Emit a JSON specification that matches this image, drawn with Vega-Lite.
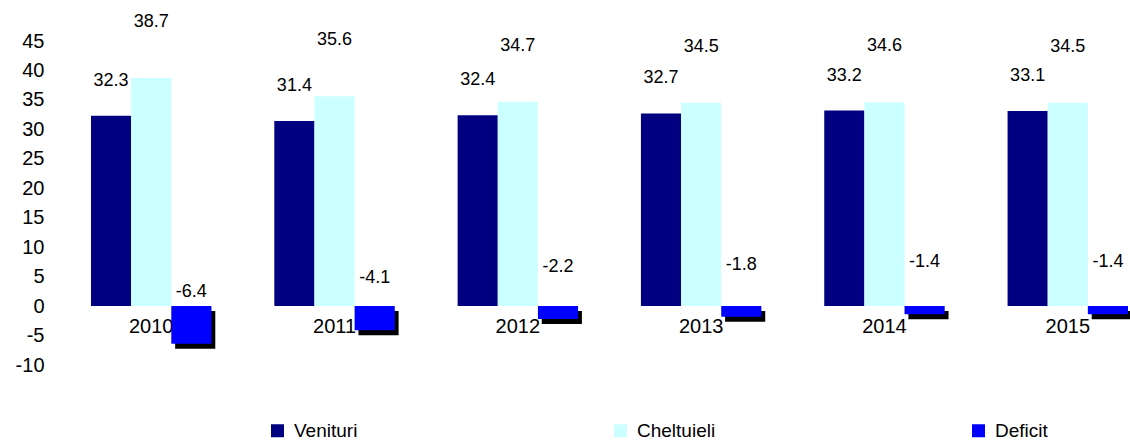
{
  "$schema": "https://vega.github.io/schema/vega-lite/v6.json",
  "autosize": "none",
  "width": 1037,
  "height": 324,
  "padding": {"left": 91, "top": 41, "right": 2, "bottom": 82},
  "background": "white",
  "config": {"view": {"stroke": null}, "font": "Liberation Sans"},
  "data": {"values": [
    {"year": "2010", "series": "Venituri", "value": 32.3},
    {"year": "2010", "series": "Cheltuieli", "value": 38.7},
    {"year": "2010", "series": "Deficit", "value": -6.4},
    {"year": "2011", "series": "Venituri", "value": 31.4},
    {"year": "2011", "series": "Cheltuieli", "value": 35.6},
    {"year": "2011", "series": "Deficit", "value": -4.1},
    {"year": "2012", "series": "Venituri", "value": 32.4},
    {"year": "2012", "series": "Cheltuieli", "value": 34.7},
    {"year": "2012", "series": "Deficit", "value": -2.2},
    {"year": "2013", "series": "Venituri", "value": 32.7},
    {"year": "2013", "series": "Cheltuieli", "value": 34.5},
    {"year": "2013", "series": "Deficit", "value": -1.8},
    {"year": "2014", "series": "Venituri", "value": 33.2},
    {"year": "2014", "series": "Cheltuieli", "value": 34.6},
    {"year": "2014", "series": "Deficit", "value": -1.4},
    {"year": "2015", "series": "Venituri", "value": 33.1},
    {"year": "2015", "series": "Cheltuieli", "value": 34.5},
    {"year": "2015", "series": "Deficit", "value": -1.4}
  ]},
  "encoding": {
    "x": {"field": "year", "type": "nominal", "axis": null,
          "scale": {"paddingInner": 0.343, "paddingOuter": 0}},
    "xOffset": {"field": "series", "type": "nominal",
                "scale": {"domain": ["Venituri", "Cheltuieli", "Deficit"], "padding": 0}},
    "y": {"field": "value", "type": "quantitative",
          "scale": {"domain": [-10, 45], "nice": false, "zero": false},
          "axis": {"values": [-10, -5, 0, 5, 10, 15, 20, 25, 30, 35, 40, 45],
                   "labelExpr": "'' + datum.value",
                   "domain": false, "ticks": false, "grid": false, "title": null,
                   "labelFontSize": 20, "labelPadding": 47, "labelColor": "black",
                   "labelFont": "Liberation Sans"}}
  },
  "layer": [
    {
      "transform": [{"filter": "datum.series === 'Venituri'"}],
      "mark": {"type": "text", "fontSize": 20, "dy": 21, "color": "black", "baseline": "middle"},
      "encoding": {
        "xOffset": null,
        "y": {"datum": 0},
        "text": {"field": "year", "type": "nominal"}
      }
    },
    {
      "transform": [{"filter": "datum.series === 'Deficit'"}],
      "mark": {"type": "bar", "color": "black", "width": {"band": 0.3333}, "xOffset": 44, "yOffset": 5, "y2Offset": 5},
      "encoding": {"xOffset": null}
    },
    {
      "mark": {"type": "bar"},
      "encoding": {
        "color": {"field": "series", "type": "nominal", "title": null,
                  "scale": {"domain": ["Venituri", "Cheltuieli", "Deficit"],
                            "range": ["#000080", "#CCFFFF", "#0000FF"]},
                  "legend": {"orient": "none", "legendX": 177, "legendY": 380,
                             "direction": "horizontal", "columns": 3, "columnPadding": 253,
                             "symbolType": "square", "symbolSize": 169, "symbolOffset": 0,
                             "symbolStrokeWidth": 0, "labelFontSize": 19, "labelColor": "black",
                             "labelFont": "Liberation Sans", "labelOffset": 7}}
      }
    },
    {
      "transform": [{"filter": "datum.series === 'Venituri'"}],
      "mark": {"type": "text", "fontSize": 18, "dy": -35, "color": "black", "baseline": "middle"},
      "encoding": {"text": {"field": "value", "type": "nominal"}}
    },
    {
      "transform": [{"filter": "datum.series === 'Cheltuieli'"}],
      "mark": {"type": "text", "fontSize": 18, "dy": -56, "color": "black", "baseline": "middle"},
      "encoding": {"text": {"field": "value", "type": "nominal"}}
    },
    {
      "transform": [{"filter": "datum.series === 'Deficit'"}],
      "mark": {"type": "text", "fontSize": 18, "dy": -52, "color": "black", "baseline": "middle"},
      "encoding": {"text": {"field": "value", "type": "nominal"}}
    }
  ]
}
